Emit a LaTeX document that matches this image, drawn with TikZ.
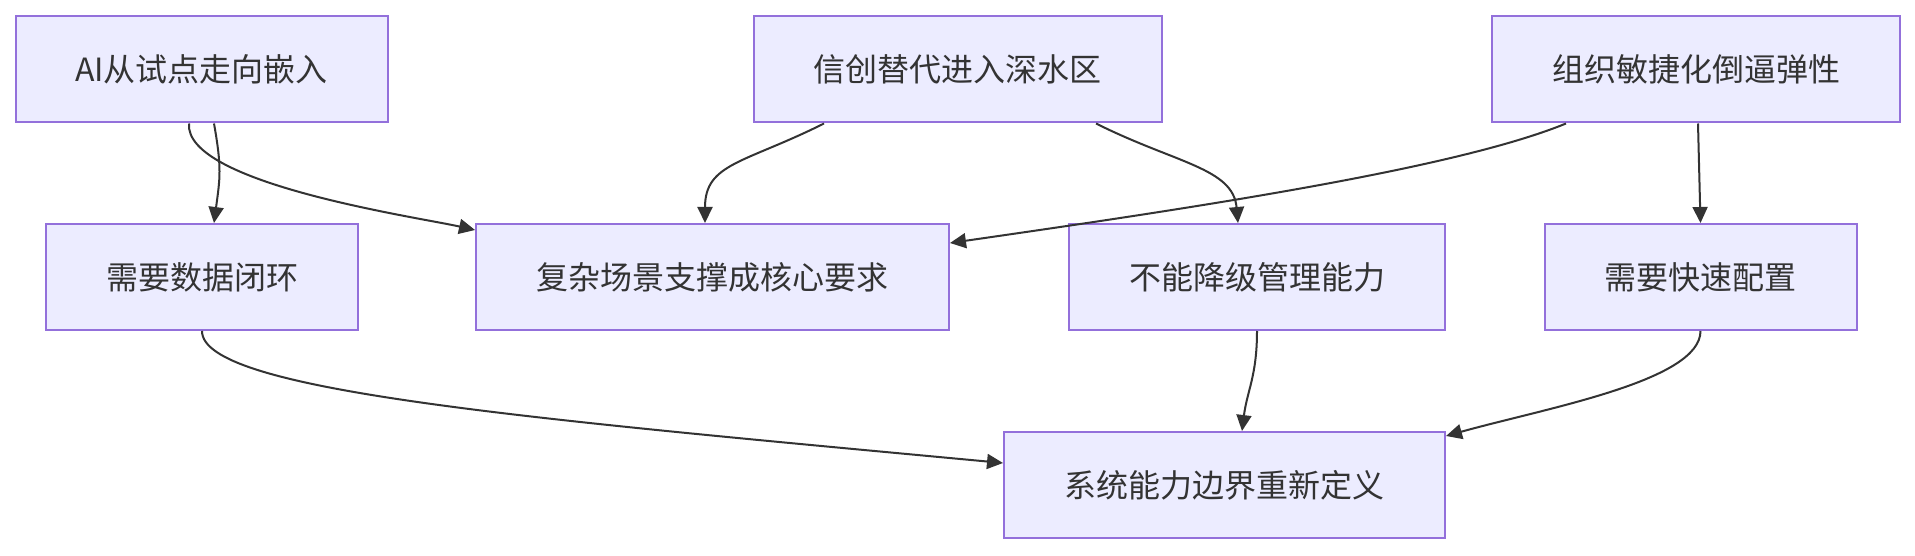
\documentclass[tikz,border=0pt]{standalone}
\usepackage{fontspec}
\setmainfont{Noto Sans CJK SC}
\usetikzlibrary{arrows.meta}
\definecolor{boxfill}{HTML}{ECECFF}
\definecolor{boxline}{HTML}{9370DB}
\definecolor{inkgray}{HTML}{333333}

\begin{document}
\begin{tikzpicture}[x=1pt, y=1pt,
		box/.style={draw=boxline, fill=boxfill, line width=2pt, minimum height=106pt, inner sep=0pt, text=inkgray, font=\fontsize{32}{38}\selectfont},
		edge/.style={draw=inkgray, line width=2pt, -{Triangle[length=16pt, width=15pt]}}]
				\useasboundingbox (0,0) rectangle (1915,-556);
				% 第一行：三个起因
				\node[box, minimum width=372pt] (ai) at (201.5,-69.5) {AI从试点走向嵌入};
				\node[box, minimum width=408pt] (xc) at (957.5,-69.5) {信创替代进入深水区};
				\node[box, minimum width=408pt] (zz) at (1696,-69.5) {组织敏捷化倒逼弹性};
				% 第二行：四个要求
				\node[box, minimum width=312pt] (sj) at (202,-277) {需要数据闭环};
				\node[box, minimum width=473pt] (fz) at (712.5,-277) {复杂场景支撑成核心要求};
				\node[box, minimum width=376pt] (bn) at (1257,-277) {不能降级管理能力};
				\node[box, minimum width=312pt] (ks) at (1700.5,-277) {需要快速配置};
				% 第三行：结论
				\node[box, minimum width=441pt] (xt) at (1224.5,-485) {系统能力边界重新定义};
				% AI 引出的两条线
				\draw[edge] ([xshift=12.5pt]ai.south) .. controls +(8,-45) and +(6,45) .. ([xshift=12pt]sj.north);
				\draw[edge] ([xshift=-12.5pt]ai.south) .. controls +(-5,-60) and +(-58,13) .. ([yshift=-7pt]fz.north west);
				% 信创引出的两条线
				\draw[edge] ([xshift=-133.5pt]xc.south) .. controls +(-80,-40) and +(0,60) .. ([xshift=-7.5pt]fz.north);
				\draw[edge] ([xshift=138.5pt]xc.south) .. controls +(80,-40) and +(-5,55) .. ([xshift=-19pt]bn.north);
				% 组织敏捷化引出的两条线
				\draw[edge] ([xshift=-130pt]zz.south) .. controls +(-110,-45) and +(250,36) .. ([yshift=-20pt]fz.north east);
				\draw[edge] ([xshift=2pt]zz.south) -- (ks.north);
				% 汇总到系统能力
				\draw[edge] (sj.south) .. controls +(0,-60) and +(-480,45) .. ([yshift=22pt]xt.west);
				\draw[edge] (bn.south) .. controls +(0,-45) and +(5,40) .. ([xshift=17.5pt]xt.north);
				\draw[edge] (ks.south) .. controls +(0,-50) and +(100,28) .. ([yshift=-5pt]xt.north east);
			\end{tikzpicture}
\end{document}
